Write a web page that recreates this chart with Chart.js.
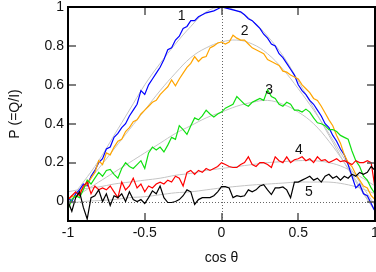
<!DOCTYPE html>
<html><head><meta charset="utf-8">
<script src="https://cdn.jsdelivr.net/npm/chart.js@4/dist/chart.umd.min.js"></script>
<style>html,body{margin:0;padding:0;background:#fff;}canvas{display:block;}</style>
</head><body>
<canvas id="c" width="376" height="272"></canvas>
<script>
// ---- data ----
const cosTheta = [-1,-0.975,-0.95,-0.925,-0.9,-0.875,-0.85,-0.825,-0.8,-0.775,-0.75,-0.725,-0.7,-0.675,-0.65,-0.625,-0.6,-0.575,-0.55,-0.525,-0.5,-0.475,-0.45,-0.425,-0.4,-0.375,-0.35,-0.325,-0.3,-0.275,-0.25,-0.225,-0.2,-0.175,-0.15,-0.125,-0.1,-0.075,-0.05,-0.025,0,0.025,0.05,0.075,0.1,0.125,0.15,0.175,0.2,0.225,0.25,0.275,0.3,0.325,0.35,0.375,0.4,0.425,0.45,0.475,0.5,0.525,0.55,0.575,0.6,0.625,0.65,0.675,0.7,0.725,0.75,0.775,0.8,0.825,0.85,0.875,0.9,0.925,0.95,0.975,1];

const P1 = [0.02,0.00,0.04,0.06,0.09,0.08,0.13,0.16,0.20,0.22,
  0.27,0.28,0.33,0.35,0.38,0.40,0.44,0.47,0.50,0.57,
  0.55,0.60,0.63,0.66,0.69,0.73,0.78,0.79,0.83,0.85,
  0.89,0.90,0.93,0.93,0.95,0.96,0.97,0.975,0.98,0.99,
  1.00,0.995,0.99,0.985,0.98,0.975,0.96,0.94,0.93,0.91,
  0.89,0.86,0.84,0.81,0.80,0.76,0.74,0.71,0.68,0.65,
  0.60,0.57,0.55,0.52,0.50,0.47,0.44,0.40,0.38,0.34,
  0.31,0.27,0.24,0.19,0.13,0.07,0.09,0.04,0.03,-0.01,
  -0.05];

const P2 = [0.01,0.03,0.02,0.05,0.07,0.09,0.12,0.15,0.21,0.19,
  0.25,0.24,0.28,0.31,0.32,0.36,0.38,0.41,0.42,0.45,
  0.47,0.49,0.51,0.52,0.55,0.57,0.59,0.625,0.595,0.63,
  0.66,0.69,0.71,0.745,0.72,0.74,0.745,0.79,0.80,0.815,
  0.82,0.81,0.82,0.855,0.84,0.83,0.83,0.81,0.79,0.78,
  0.77,0.76,0.73,0.72,0.71,0.70,0.67,0.665,0.65,0.64,
  0.63,0.60,0.58,0.56,0.53,0.52,0.49,0.455,0.42,0.39,
  0.34,0.30,0.24,0.20,0.18,0.14,0.11,0.08,0.07,0.03,
  0.01];

const P3 = [-0.04,0.01,0.03,0.02,0.06,0.11,0.09,0.12,0.15,0.13,
  0.16,0.165,0.14,0.12,0.17,0.20,0.18,0.17,0.19,0.21,
  0.17,0.25,0.28,0.265,0.28,0.255,0.29,0.33,0.32,0.39,
  0.37,0.345,0.39,0.43,0.42,0.44,0.47,0.45,0.435,0.45,
  0.46,0.48,0.49,0.50,0.54,0.52,0.50,0.49,0.51,0.52,
  0.53,0.52,0.575,0.54,0.53,0.50,0.49,0.51,0.50,0.47,
  0.47,0.46,0.475,0.46,0.43,0.405,0.40,0.39,0.37,0.37,
  0.36,0.34,0.33,0.32,0.26,0.21,0.18,0.13,0.11,0.07,
  0.04];

const P4 = [0.01,0.03,0.05,0.03,0.08,0.10,0.04,0.08,0.06,0.07,
  0.06,0.08,0.05,0.02,0.10,0.06,0.08,0.12,0.07,0.09,
  0.05,0.08,0.07,0.09,0.10,0.09,0.11,0.10,0.13,0.12,
  0.08,0.15,0.16,0.14,0.16,0.15,0.17,0.16,0.17,0.18,
  0.20,0.19,0.18,0.175,0.175,0.19,0.20,0.23,0.19,0.18,
  0.20,0.20,0.19,0.175,0.23,0.21,0.20,0.23,0.20,0.215,
  0.22,0.23,0.21,0.22,0.20,0.23,0.21,0.215,0.20,0.21,
  0.22,0.205,0.21,0.20,0.19,0.21,0.20,0.20,0.21,0.20,
  0.07];

const P5 = [0.00,-0.05,0.02,0.05,-0.03,-0.09,0.02,0.03,0.06,0.00,
  0.04,-0.02,0.03,0.02,0.04,0.00,0.05,0.01,0.00,0.01,
  -0.01,0.02,0.055,0.04,0.08,0.02,-0.005,-0.005,0.00,0.01,
  0.03,0.06,0.05,-0.015,0.01,0.02,0.02,0.02,0.03,0.05,
  0.077,0.077,0.07,0.02,0.03,0.025,0.03,0.06,0.05,0.06,
  0.08,0.087,0.06,0.036,0.07,0.07,0.075,0.06,0.02,0.10,
  0.10,0.11,0.12,0.13,0.11,0.12,0.10,0.13,0.14,0.12,
  0.13,0.11,0.13,0.12,0.14,0.13,0.15,0.14,0.15,0.18,
  0.16];

// smooth gray fit curves
const fitCos = [-1,-0.9,-0.8,-0.7,-0.6,-0.5,-0.4,-0.3,-0.2,-0.1,0,0.1,0.2,0.3,0.4,0.5,0.6,0.7,0.8,0.9,1];
const F1 = [0.0,0.10,0.21,0.34,0.47,0.60,0.71,0.81,0.90,0.975,1.0,0.98,0.93,0.85,0.75,0.62,0.48,0.34,0.20,0.07,-0.05];
const F2 = [0.0,0.08,0.17,0.27,0.37,0.47,0.57,0.66,0.74,0.79,0.82,0.83,0.81,0.76,0.68,0.58,0.47,0.35,0.22,0.10,-0.02];
const F3 = [0.0,0.05,0.10,0.15,0.20,0.25,0.30,0.35,0.39,0.43,0.46,0.49,0.51,0.52,0.50,0.46,0.40,0.31,0.20,0.08,-0.05];
const F4 = [0.05,0.065,0.075,0.09,0.10,0.11,0.12,0.135,0.145,0.16,0.17,0.18,0.19,0.20,0.205,0.21,0.21,0.20,0.175,0.13,0.08];
const F5 = [-0.01,0.0,0.005,0.01,0.02,0.025,0.035,0.045,0.05,0.06,0.07,0.078,0.085,0.09,0.095,0.10,0.10,0.10,0.09,0.07,0.04];

const xTicks = [-1,-0.5,0,0.5,1];
const yTicks = [0,0.2,0.4,0.6,0.8,1];
const curveNames = ['1','2','3','4','5'];
const xTitle = 'cos θ';
const yTitle = 'P (=Q/I)';

// ---- drawing ----
const FONT = '"Liberation Sans", Arial, sans-serif';
const pts = (xs, ys) => xs.map((x, i) => ({x: x, y: ys[i]}));
const colors = ['#0000ff', '#ffa500', '#11e011', '#ff0000', '#000000'];
const series = [P1, P2, P3, P4, P5];
const fits = [F1, F2, F3, F4, F5];

const datasets = [];
fits.forEach((f) => datasets.push({
  data: pts(fitCos, f), borderColor: '#c4c4c4', borderWidth: 1, tension: 0.4,
  pointRadius: 0, fill: false, order: 10
}));
series.forEach((s, i) => datasets.push({
  data: pts(cosTheta, s), borderColor: colors[i], borderWidth: 1.2, tension: 0,
  pointRadius: 0, fill: false, order: 5 - i
}));

// where the curve numbers sit (data coordinates)
const nameAnchor = {x: [-0.26, 0.15, 0.31, 0.505, 0.57], y: [0.955, 0.877, 0.574, 0.262, 0.046]};

const framePlugin = {
  id: 'frame',
  beforeDatasetsDraw(chart) {
    const {ctx, chartArea: a, scales: {x, y}} = chart;
    ctx.save();
    ctx.strokeStyle = '#666'; ctx.lineWidth = 1; ctx.setLineDash([1, 2]);
    const x0 = Math.round(x.getPixelForValue(0)) + 0.5;
    const y0 = Math.round(y.getPixelForValue(0)) + 0.5;
    ctx.beginPath();
    ctx.moveTo(x0, a.top); ctx.lineTo(x0, a.bottom);
    ctx.moveTo(a.left, y0); ctx.lineTo(a.right, y0);
    ctx.stroke();
    ctx.restore();
  },
  afterDatasetsDraw(chart) {
    const {ctx, chartArea: a, scales: {x, y}} = chart;
    ctx.save();
    // inward ticks on all four sides
    ctx.strokeStyle = '#555'; ctx.lineWidth = 1.5;
    const TL = 8;
    ctx.beginPath();
    xTicks.forEach(v => {
      if (v <= x.min || v >= x.max) return;
      const px = Math.round(x.getPixelForValue(v));
      ctx.moveTo(px, a.bottom); ctx.lineTo(px, a.bottom - TL);
      ctx.moveTo(px, a.top); ctx.lineTo(px, a.top + TL);
    });
    yTicks.forEach(v => {
      if (v <= y.min || v >= y.max) return;
      const py = Math.round(y.getPixelForValue(v));
      ctx.moveTo(a.left, py); ctx.lineTo(a.left + TL, py);
      ctx.moveTo(a.right, py); ctx.lineTo(a.right - TL, py);
    });
    ctx.stroke();
    // border box
    ctx.strokeStyle = '#000'; ctx.lineWidth = 2;
    ctx.strokeRect(a.left, a.top, a.right - a.left, a.bottom - a.top);
    // curve numbers
    ctx.fillStyle = '#111'; ctx.font = '14px ' + FONT;
    ctx.textAlign = 'center'; ctx.textBaseline = 'middle';
    curveNames.forEach((n, i) => {
      ctx.fillText(n, x.getPixelForValue(nameAnchor.x[i]), y.getPixelForValue(nameAnchor.y[i]));
    });
    ctx.restore();
  }
};

new Chart(document.getElementById('c'), {
  type: 'line',
  data: {datasets: datasets},
  plugins: [framePlugin],
  options: {
    responsive: false, animation: false, devicePixelRatio: 1,
    layout: {padding: {top: 7, right: 1, left: 0, bottom: 0}},
    plugins: {legend: {display: false}, tooltip: {enabled: false}},
    elements: {point: {radius: 0}},
    scales: {
      x: {
        type: 'linear', min: -1, max: 1,
        afterBuildTicks: s => { s.ticks = xTicks.map(v => ({value: v})); },
        afterFit: s => { s.height = 51; s.paddingLeft = 0; s.paddingRight = 0; },
        grid: {display: false, drawTicks: false}, border: {display: false},
        ticks: {padding: 4, color: '#111', font: {family: FONT, size: 14}, maxRotation: 0, autoSkip: false,
                callback: v => String(v)},
        title: {display: true, text: xTitle, color: '#111', font: {family: FONT, size: 14}, padding: {top: 0, bottom: 5}}
      },
      y: {
        type: 'linear', min: -0.1, max: 1,
        afterBuildTicks: s => { s.ticks = yTicks.map(v => ({value: v})); },
        afterFit: s => { s.width = 68; s.paddingTop = 0; s.paddingBottom = 0; },
        grid: {display: false, drawTicks: false}, border: {display: false},
        ticks: {padding: 4, color: '#111', font: {family: FONT, size: 14}, autoSkip: false,
                callback: v => String(v)},
        title: {display: true, text: yTitle, color: '#111', font: {family: FONT, size: 14}, padding: {top: 7, bottom: 0}}
      }
    }
  }
});
</script>
</body></html>
